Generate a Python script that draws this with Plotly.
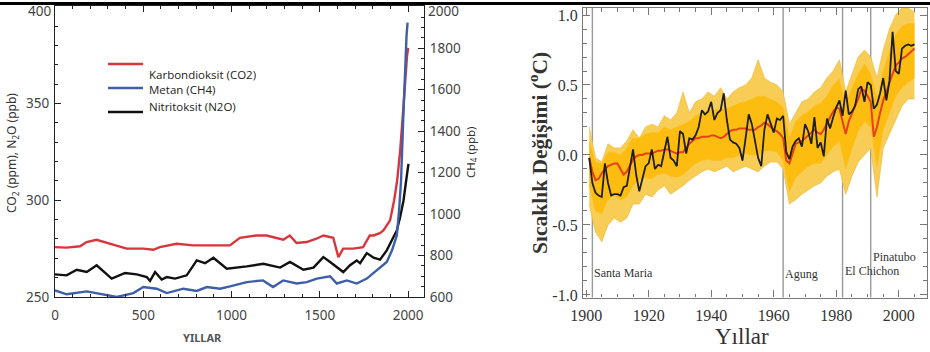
import plotly.graph_objects as go

# ---------------- Left panel data ----------------
co2_years = [0, 66, 142, 179, 236, 311, 406, 500, 557, 594, 689, 783, 896, 991, 1047, 1142, 1198,
             1293, 1330, 1368, 1425, 1481, 1520, 1576, 1605, 1632, 1689, 1745, 1783, 1804, 1840,
             1860, 1898, 1921, 1938, 1955, 1972, 1983, 1994, 2000]
co2_ppm = [275.8, 275.5, 276.2, 278.4, 279.6, 277.5, 275.0, 275.0, 274.4, 275.8, 277.5, 276.7, 276.7,
           276.7, 280.6, 281.8, 281.8, 279.6, 281.8, 277.9, 278.4, 280.1, 281.8, 280.6, 270.6, 275.0,
           275.0, 275.8, 281.8, 281.8, 283.0, 284.4, 289.6, 300.0, 310.2, 325.7, 346.3, 361.8, 374.7, 378.8]

ch4_years = [0, 66, 180, 255, 350, 444, 500, 576, 633, 727, 803, 860, 935, 991, 1086, 1178, 1235,
             1292, 1369, 1426, 1483, 1558, 1596, 1653, 1709, 1766, 1823, 1879, 1909, 1936, 1949,
             1960, 1972, 1983, 1991, 1997]
ch4_ppb = [632, 613, 627, 616, 600, 619, 648, 640, 619, 640, 629, 648, 640, 651, 672, 680, 648,
           680, 665, 672, 689, 700, 665, 680, 665, 689, 729, 769, 825, 897, 1018,
           1162, 1451, 1740, 1860, 1923]

n2o_years = [0, 66, 123, 180, 236, 321, 397, 463, 520, 538, 567, 604, 633, 680, 746, 803, 850, 897,
             973, 1086, 1180, 1275, 1331, 1407, 1464, 1520, 1558, 1633, 1671, 1709, 1728, 1766,
             1804, 1841, 1879, 1936, 1955, 1974, 1989, 2002]
n2o_ppb = [261.7, 261.2, 264.1, 262.9, 266.4, 259.5, 262.4, 261.7, 260.3, 258.3, 262.9, 259.0, 260.3,
           259.5, 261.2, 268.9, 267.5, 270.3, 264.6, 265.8, 267.2, 265.2, 268.1, 264.1, 265.2, 270.6,
           268.1, 262.9, 266.4, 268.9, 267.5, 272.7, 270.3, 269.3, 274.1, 284.4, 291.3, 299.9, 310.2, 318.8]

left_xticks = [0, 500, 1000, 1500, 2000]
left_yticks = [250, 300, 350, 400]
left_ytext = ["250", "300", "350", ""]          # top label drawn separately (kept inside the page)
right_yticks = [600, 800, 1000, 1200, 1400, 1600, 1800, 2000]
right_ytext = ["600", "800", "1000", "1200", "1400", "1600", "1800", ""]
top_left_label = "400"
top_right_label = "2000"
legend_names = ["Karbondioksit (CO2)", "Metan (CH4)", "Nitritoksit (N2O)"]

# ---------------- Right panel data ----------------
temp_years = list(range(1901, 2006))
observed = [-0.02, -0.20, -0.27, -0.29, -0.30, -0.06, -0.20, -0.29, -0.28, -0.28,
            -0.29, -0.23, -0.22, -0.10, 0.04, -0.14, -0.26, -0.17, -0.08, -0.06,
            0.04, -0.10, -0.07, -0.08, 0.03, 0.13, -0.02, -0.04, -0.08, 0.17,
            0.15, 0.01, 0.12, 0.11, 0.14, 0.20, 0.32, 0.29, 0.31, 0.38,
            0.25, 0.30, 0.32, 0.44, 0.25, 0.11, 0.09, 0.08, 0.05, -0.04,
            0.12, 0.29, 0.22, 0.11, -0.02, -0.08, 0.18, 0.29, 0.22, 0.16,
            0.26, 0.25, 0.28, 0.02, -0.03, 0.06, 0.10, 0.12, 0.06, 0.22,
            0.17, 0.08, 0.27, 0.05, 0.09, -0.01, 0.26, 0.19, 0.27, 0.34,
            0.39, 0.28, 0.46, 0.29, 0.31, 0.35, 0.47, 0.49, 0.38, 0.52,
            0.50, 0.33, 0.36, 0.44, 0.55, 0.39, 0.53, 0.88, 0.60, 0.58,
            0.76, 0.78, 0.79, 0.78, 0.79]
model_mean = [-0.02, -0.12, -0.18, -0.17, -0.13, -0.10, -0.08, -0.07, -0.06, -0.06,
              -0.10, -0.14, -0.12, -0.07, -0.03, -0.01, 0.00, 0.00, 0.01, 0.01,
              0.01, 0.02, 0.03, 0.03, 0.04, 0.04, 0.03, 0.02, 0.01, 0.02,
              0.02, 0.05, 0.08, 0.10, 0.12, 0.12, 0.13, 0.13, 0.13, 0.14,
              0.14, 0.13, 0.12, 0.13, 0.15, 0.17, 0.18, 0.18, 0.19, 0.19,
              0.19, 0.18, 0.18, 0.18, 0.20, 0.21, 0.23, 0.22, 0.20, 0.18,
              0.17, 0.15, 0.12, -0.04, -0.06, 0.02, 0.08, 0.09, 0.10, 0.12,
              0.14, 0.16, 0.18, 0.16, 0.15, 0.18, 0.23, 0.27, 0.31, 0.34,
              0.33, 0.25, 0.15, 0.24, 0.30, 0.35, 0.40, 0.47, 0.46, 0.42,
              0.38, 0.13, 0.20, 0.30, 0.39, 0.45, 0.52, 0.58, 0.64, 0.66,
              0.69, 0.70, 0.72, 0.74, 0.76]

band_years = list(range(1901, 2006, 2))
ens_outer_hi = [0.20, -0.02, -0.05, 0.08, 0.05, 0.05, 0.10, 0.18, 0.12, 0.20,
                0.22, 0.20, 0.28, 0.25, 0.30, 0.45, 0.30, 0.38, 0.40, 0.45,
                0.42, 0.48, 0.40, 0.45, 0.48, 0.50, 0.55, 0.68, 0.55, 0.52,
                0.50, 0.45, 0.22, 0.30, 0.38, 0.40, 0.45, 0.48, 0.55, 0.60,
                0.68, 0.45, 0.58, 0.70, 0.75, 0.70, 0.55, 0.75, 0.90, 1.00,
                1.05, 1.05, 1.02]
ens_outer_lo = [-0.35, -0.55, -0.62, -0.50, -0.45, -0.48, -0.45, -0.35, -0.35, -0.28,
                -0.30, -0.25, -0.22, -0.28, -0.25, -0.22, -0.18, -0.15, -0.12, -0.10,
                -0.12, -0.10, -0.08, -0.12, -0.10, -0.08, -0.10, -0.12, -0.08, -0.05,
                -0.05, -0.10, -0.35, -0.32, -0.28, -0.25, -0.22, -0.20, -0.15, -0.12,
                -0.10, -0.28, -0.15, -0.05, 0.00, 0.05, -0.30, 0.05, 0.15, 0.25,
                0.35, 0.40, 0.40]
ens_inner_hi = [0.10, -0.05, -0.06, 0.02, 0.02, 0.00, 0.05, 0.12, 0.12, 0.15,
                0.16, 0.16, 0.20, 0.18, 0.20, 0.22, 0.24, 0.28, 0.30, 0.32,
                0.32, 0.33, 0.33, 0.35, 0.37, 0.38, 0.40, 0.42, 0.42, 0.40,
                0.38, 0.34, 0.12, 0.24, 0.28, 0.31, 0.35, 0.37, 0.42, 0.50,
                0.54, 0.36, 0.48, 0.58, 0.65, 0.58, 0.40, 0.60, 0.74, 0.86,
                0.92, 0.94, 0.94]
ens_inner_lo = [-0.22, -0.40, -0.42, -0.32, -0.28, -0.32, -0.30, -0.22, -0.18, -0.16,
                -0.17, -0.14, -0.13, -0.15, -0.16, -0.14, -0.10, -0.06, -0.04, -0.03,
                -0.04, -0.04, -0.02, -0.02, 0.00, 0.01, 0.00, 0.00, 0.03, 0.03,
                0.02, -0.04, -0.26, -0.16, -0.12, -0.08, -0.06, -0.06, 0.00, 0.06,
                0.10, -0.10, 0.05, 0.17, 0.24, 0.20, -0.08, 0.18, 0.30, 0.42,
                0.48, 0.52, 0.55]

volcano_names = ["Santa Maria", "Agung", "El Chichon", "Pinatubo"]
volcano_years = [1902, 1963, 1982, 1991]
volcano_label_y = [-0.84, -0.85, -0.83, -0.73]

temp_xticks = [1900, 1920, 1940, 1960, 1980, 2000]
temp_yticks = [-1.0, -0.5, 0.0, 0.5, 1.0]
temp_yticktext = ["-1.0", "-0.5", "0.0", "0.5", "1.0"]

# ---------------- Figure ----------------
RED = "#D8363C"
BLUE = "#3E5EA8"
BLK = "#111111"

fig = go.Figure()

fig.add_trace(go.Scatter(x=co2_years, y=co2_ppm, mode="lines", line=dict(color=RED, width=2.4),
                         xaxis="x", yaxis="y", showlegend=False))
fig.add_trace(go.Scatter(x=n2o_years, y=n2o_ppb, mode="lines", line=dict(color=BLK, width=2.4),
                         xaxis="x", yaxis="y", showlegend=False))
fig.add_trace(go.Scatter(x=ch4_years, y=ch4_ppb, mode="lines", line=dict(color=BLUE, width=2.4),
                         xaxis="x", yaxis="y2", showlegend=False))

# ensemble envelopes
fig.add_trace(go.Scatter(x=band_years, y=ens_outer_lo, mode="lines", line=dict(color="#F0C040", width=0.8),
                         xaxis="x2", yaxis="y3", showlegend=False))
fig.add_trace(go.Scatter(x=band_years, y=ens_outer_hi, mode="lines", line=dict(color="#F0C040", width=0.8),
                         fill="tonexty", fillcolor="#F8CD55", xaxis="x2", yaxis="y3", showlegend=False))
fig.add_trace(go.Scatter(x=band_years, y=ens_inner_lo, mode="lines", line=dict(color="#FBC020", width=0.6),
                         xaxis="x2", yaxis="y3", showlegend=False))
fig.add_trace(go.Scatter(x=band_years, y=ens_inner_hi, mode="lines", line=dict(color="#FBC020", width=0.6),
                         fill="tonexty", fillcolor="#FDBD10", xaxis="x2", yaxis="y3", showlegend=False))
fig.add_trace(go.Scatter(x=temp_years, y=model_mean, mode="lines", line=dict(color="#E5411C", width=2),
                         xaxis="x2", yaxis="y3", showlegend=False))
fig.add_trace(go.Scatter(x=temp_years, y=observed, mode="lines", line=dict(color="#1E1E1E", width=1.8),
                         xaxis="x2", yaxis="y3", showlegend=False))

LFONT = dict(family="Noto Sans", size=13.5, color="#444444")
SFONT = dict(family="Liberation Serif", size=16, color="#333333")

fig.update_layout(
    width=930, height=352,
    margin=dict(l=0, r=0, t=0, b=0, autoexpand=False),
    paper_bgcolor="white", plot_bgcolor="white",
    xaxis=dict(domain=[55/930, 424/930], range=[0, 2090], anchor="y", automargin=False,
               tickvals=left_xticks, ticks="inside", ticklen=6, tickcolor="#222",
               minor=dict(dtick=100, tick0=0, ticks="inside", ticklen=3, tickcolor="#222"),
               showline=True, linecolor="#222", linewidth=1.3, mirror="ticks",
               showgrid=False, zeroline=False, tickfont=LFONT, ticklabelstandoff=6,
               ticklabeloverflow="allow"),
    yaxis=dict(domain=[1-297/352, 1-6/352], range=[250, 400.4], anchor="x", automargin=False,
               tickvals=left_yticks, ticktext=left_ytext, ticks="inside", ticklen=6, tickcolor="#222",
               minor=dict(dtick=10, tick0=250, ticks="inside", ticklen=3, tickcolor="#222"),
               showline=True, linecolor="#222", linewidth=1.3,
               showgrid=False, zeroline=False, tickfont=LFONT, ticklabelstandoff=2,
               ticklabeloverflow="allow"),
    yaxis2=dict(range=[600, 2003.5], overlaying="y", side="right", anchor="x", automargin=False,
                tickvals=right_yticks, ticktext=right_ytext, ticks="inside", ticklen=6, tickcolor="#222",
                minor=dict(dtick=50, tick0=600, ticks="inside", ticklen=3, tickcolor="#222"),
                showline=True, linecolor="#222", linewidth=1.3,
                showgrid=False, zeroline=False, tickfont=LFONT, ticklabelstandoff=2,
                ticklabeloverflow="allow"),
    xaxis2=dict(domain=[583/930, 927/930], range=[1899, 2009], anchor="y3", automargin=False,
                tickvals=temp_xticks, ticks="inside", ticklen=7, tickcolor="#777",
                minor=dict(dtick=5, tick0=1900, ticks="inside", ticklen=3.5, tickcolor="#777"),
                showline=True, linecolor="#777", linewidth=1.2, mirror="ticks",
                showgrid=False, zeroline=False, tickfont=SFONT, ticklabelstandoff=3,
                ticklabeloverflow="allow"),
    yaxis3=dict(domain=[1-297.5/352, 1-8/352], range=[-1.018, 1.05], anchor="x2", automargin=False,
                tickvals=temp_yticks, ticktext=temp_yticktext, ticks="inside", ticklen=7, tickcolor="#777",
                minor=dict(dtick=0.1, tick0=0, ticks="inside", ticklen=3.5, tickcolor="#777"),
                showline=True, linecolor="#777", linewidth=1.2, mirror="ticks",
                showgrid=False, zeroline=False, tickfont=SFONT, ticklabelstandoff=1,
                ticklabeloverflow="allow"),
)

# volcano lines and labels
for name, yr, ly in zip(volcano_names, volcano_years, volcano_label_y):
    fig.add_shape(type="line", xref="x2", yref="y3 domain", x0=yr, x1=yr, y0=0, y1=1,
                  line=dict(color="#9A9A9A", width=1.4), layer="below")
    fig.add_annotation(x=yr, y=ly, xref="x2", yref="y3", text=name, showarrow=False,
                       xanchor="left", yanchor="middle", xshift=0,
                       font=dict(family="Liberation Serif", size=12, color="#333333"))

# top border line
fig.add_shape(type="line", xref="paper", yref="paper", x0=0, x1=1, y0=1-3.5/352, y1=1-3.5/352,
              line=dict(color="black", width=3))

# top tick labels of the left panel, nudged inside the page as in the reference
fig.add_annotation(x=0, y=1-11/352, xref="x domain", yref="paper", text=top_left_label,
                   showarrow=False, xanchor="right", yanchor="middle", xshift=-3,
                   font=LFONT, borderpad=0)
fig.add_annotation(x=1, y=1-11/352, xref="x domain", yref="paper", text=top_right_label,
                   showarrow=False, xanchor="left", yanchor="middle", xshift=3,
                   font=LFONT, borderpad=0)

# legend (left panel)
leg_line_y = [64, 88, 112]
leg_text_y = [74, 89, 106]
for name, col, ly, ty in zip(legend_names, [RED, BLUE, BLK], leg_line_y, leg_text_y):
    fig.add_shape(type="line", xref="paper", yref="paper", x0=108/930, x1=143/930,
                  y0=1-ly/352, y1=1-ly/352, line=dict(color=col, width=2.6))
    fig.add_annotation(x=148/930, y=1-ty/352, xref="paper", yref="paper", text=name,
                       showarrow=False, xanchor="left", yanchor="middle", borderpad=0,
                       font=dict(family="Open Sans", size=11.5, color="#222222"))

# axis titles
def title(x, y, text, font, angle=0):
    fig.add_annotation(x=x/930, y=1-y/352, xref="paper", yref="paper", text=text,
                       textangle=angle, showarrow=False, xanchor="center", yanchor="middle",
                       font=font)

title(12, 153, "CO<sub>2</sub> (ppm), N<sub>2</sub>O (ppb)",
      dict(family="Noto Sans", size=12, color="#333333"), -90)
title(471, 152, "CH<sub>4</sub> (ppb)", dict(family="Noto Sans", size=11.5, color="#333333"), -90)
title(202, 337, "<b>YILLAR</b>", dict(family="Noto Sans", size=11, color="#555555"))
title(539, 153, "<b>Sıcaklık Değişimi (<sup>o</sup>C)</b>",
      dict(family="Liberation Serif", size=21.5, color="#333333"), -90)
title(742, 336, "Yıllar", dict(family="Liberation Serif", size=23, color="#333333"))

fig.write_html("out.html", config={"displayModeBar": False},
               post_script="document.body.style.margin='0';document.body.style.overflow='hidden';")
